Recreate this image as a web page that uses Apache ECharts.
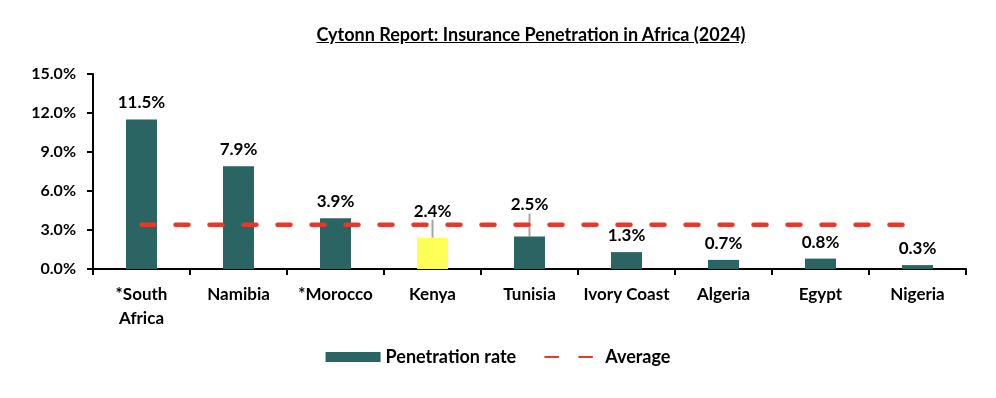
<!DOCTYPE html>
<html>
<head>
<meta charset="utf-8">
<script src="https://cdn.jsdelivr.net/npm/echarts@6/dist/echarts.min.js"></script>
<style>
  html, body { margin: 0; padding: 0; background: #fff; }
  #wrap { position: relative; width: 996px; height: 398px; }
  #chart { width: 996px; height: 398px; }
  #title {
    position: absolute; left: 0; width: 1062px; top: 23px; text-align: center;
    font: bold 18px Lato, sans-serif; text-decoration: underline; color: #000;
  }
</style>
</head>
<body>
<div id="wrap">
  <div id="chart"></div>
  <div id="title">Cytonn Report: Insurance Penetration in Africa (2024)</div>
</div>
<script>
var categories = ['*South\nAfrica', 'Namibia', '*Morocco', 'Kenya', 'Tunisia', 'Ivory Coast', 'Algeria', 'Egypt', 'Nigeria'];
var penetration = [11.5, 7.9, 3.9, 2.4, 2.5, 1.3, 0.7, 0.8, 0.3];
var average = [3.4, 3.4, 3.4, 3.4, 3.4, 3.4, 3.4, 3.4, 3.4];
var yTicks = [0, 3, 6, 9, 12, 15];

var barColor = '#2b6563';
var highlight = 'Kenya';
// labels pushed up above the average line, with a leader line
var raised = { 'Kenya': -10, 'Tunisia': -15 };

var font = 'Lato, sans-serif';
var myChart = echarts.init(document.getElementById('chart'));

var barData = [];
for (var i = 0; i < penetration.length; i++) {
  barData.push({
    value: penetration[i],
    itemStyle: { color: categories[i] == highlight ? '#ffff55' : barColor },
    labelLine: { show: !!raised[categories[i]] }
  });
}

var option = {
  animation: false,
  grid: { left: 93, right: 30, top: 74, bottom: 129 },
  xAxis: {
    type: 'category',
    data: categories,
    axisLine: { lineStyle: { color: '#000', width: 2 } },
    axisTick: { show: true, length: 6, lineStyle: { color: '#000', width: 2 } },
    axisLabel: { color: '#000', fontFamily: font, fontWeight: 'bold', fontSize: 17, margin: 14, lineHeight: 24, interval: 0 }
  },
  yAxis: {
    type: 'value',
    min: yTicks[0],
    max: yTicks[yTicks.length - 1],
    interval: 3,
    splitLine: { show: false },
    axisLine: { show: true, lineStyle: { color: '#000', width: 2 } },
    axisTick: { show: true, length: 6, lineStyle: { color: '#000', width: 2 } },
    axisLabel: {
      color: '#000', fontFamily: font, fontWeight: 'bold', fontSize: 16, margin: 17,
      formatter: function(v) { return v.toFixed(1) + '%'; }
    }
  },
  legend: {
    bottom: 27,
    left: 'center',
    itemWidth: 55,
    itemHeight: 10,
    itemGap: 28,
    textStyle: { color: '#000', fontFamily: font, fontWeight: 'bold', fontSize: 18 },
    data: [
      { name: 'Penetration rate', icon: 'rect', itemStyle: { color: barColor } },
      { name: 'Average', itemStyle: { opacity: 0 } }
    ]
  },
  series: [{
    name: 'Penetration rate',
    type: 'bar',
    barWidth: 31,
    itemStyle: { color: barColor },
    label: {
      show: true,
      position: 'top',
      distance: 8,
      color: '#000',
      fontFamily: font,
      fontWeight: 'bold',
      fontSize: 17,
      formatter: function(p) { return p.value.toFixed(1) + '%'; }
    },
    labelLine: { show: false, lineStyle: { color: '#a5a5a5', width: 2 } },
    labelLayout: function(p) {
      var dy = raised[categories[p.dataIndex]];
      return dy ? { dy: dy } : {};
    },
    data: barData,
    z: 2
  }, {
    name: 'Average',
    type: 'line',
    data: average,
    symbol: 'none',
    itemStyle: { color: '#e8382b' },
    lineStyle: { color: '#e8382b', width: 4.5, type: [13, 21], cap: 'round' },
    z: 3
  }]
};

myChart.setOption(option);
</script>
</body>
</html>
